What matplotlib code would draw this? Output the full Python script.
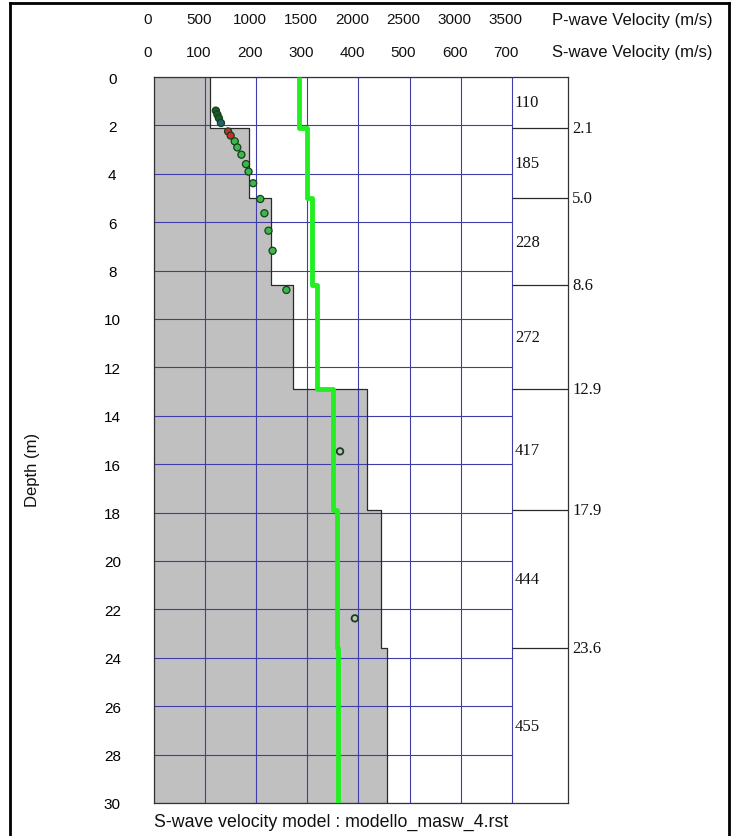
import numpy as np
import matplotlib
matplotlib.use('Agg')
import matplotlib.pyplot as plt
from matplotlib import transforms
from matplotlib.lines import Line2D

# ---------------- data ----------------
layer_tops = [0.0, 2.1, 5.0, 8.6, 12.9, 17.9, 23.6]
max_depth = 30.0
vs_layers = [110, 185, 228, 272, 417, 444, 455]
vp_layers = [1420, 1493, 1541, 1595, 1752, 1786, 1803]
boundary_labels = ['2.1', '5.0', '8.6', '12.9', '17.9', '23.6']

disp_vel = [121, 124, 127, 131, 145, 150, 158, 163, 171, 180, 185, 194,
            208, 216, 224, 232, 259]
disp_depth = [1.39, 1.55, 1.70, 1.90, 2.25, 2.42, 2.66, 2.91, 3.21, 3.60,
              3.91, 4.39, 5.04, 5.63, 6.35, 7.18, 8.80]
extra_vel = [364, 393]
extra_depth = [15.47, 22.37]

vs_ticks = [0, 100, 200, 300, 400, 500, 600, 700]
vp_ticks = [0, 500, 1000, 1500, 2000, 2500, 3000, 3500]
depth_ticks = list(range(0, 31, 2))

# styles
point_colors = ['#1d5a2c', '#1d5a2c', '#1d5a2c', '#1f6272', '#c23030', '#c23030'] + ['#3cb84a'] * 11
grid_color = '#3e3ea6'
fill_color = '#c0c0c0'

W, H = 736, 837
fig = plt.figure(figsize=(W / 100, H / 100), dpi=100)
fig.patch.set_facecolor('white')

L, R, T, B = 154, 568, 78, 804
ax = fig.add_axes([L / W, 1 - B / H, (R - L) / W, (B - T) / H])
xmax = 810
ax.set_xlim(0, xmax)
ax.set_ylim(max_depth, 0)

# step profile
edges = list(layer_tops) + [max_depth]
ys = np.repeat(edges, 2)[1:-1]
xs = np.repeat(vs_layers, 2)
ax.fill_betweenx(ys, 0, xs, color=fill_color, lw=0, zorder=1)

# grid
for v in vs_ticks:
    ax.plot([v, v], [0, max_depth], color=grid_color, lw=0.8, zorder=2)
for d in depth_ticks:
    ax.plot([0, vs_ticks[-1]], [d, d], color=grid_color, lw=0.8, zorder=2)

ax.plot(xs, ys, color='#2a2a2a', lw=0.9, zorder=3)

# dispersion points
ax.scatter(disp_vel, disp_depth, s=26, c=point_colors, edgecolors='#15401a',
           linewidths=0.9, zorder=5)
ax.scatter(extra_vel, extra_depth, s=22, facecolors='none', edgecolors='#15401a',
           linewidths=1.3, zorder=5)

# right column
ax.hlines(layer_tops[1:], vs_ticks[-1], xmax, color='#2a2a2a', lw=0.9, zorder=3)
mids = [(a + b) / 2 for a, b in zip(edges[:-1], edges[1:])]
for m, v in zip(mids, vs_layers):
    ax.text(vs_ticks[-1] + 6, m, str(v), ha='left', va='center',
            family='Liberation Serif', fontsize=12, color='#111111')
off_r = transforms.offset_copy(ax.transData, fig=fig, x=4, y=0, units='dots')
for d, lab in zip(layer_tops[1:], boundary_labels):
    ax.text(xmax, d, lab, ha='left', va='center', transform=off_r,
            family='Liberation Serif', fontsize=12, color='#111111', clip_on=False)

# spines and ticks
for s in ax.spines.values():
    s.set_color('#333333')
    s.set_linewidth(0.9)
ax.set_xticks([])
ax.set_yticks(depth_ticks)
ax.set_yticklabels([str(d) for d in depth_ticks], ha='center',
                   family='Liberation Sans', fontsize=11)
ax.tick_params(axis='y', length=0, pad=30)

# P-wave line on twin axis (drawn above the S-wave axes)
ax2 = ax.twiny()
ax2.set_xlim(0, xmax * vp_ticks[-1] / vs_ticks[-1])
ax2.set_ylim(max_depth, 0)
vp_x = np.repeat(vp_layers, 2)
ax2.plot(vp_x, ys, color='#22ee22', lw=3.5, solid_capstyle='butt', zorder=4)
ax2.axis('off')

# top labels
blend = transforms.blended_transform_factory(ax.transData, fig.transFigure)
blend_off = transforms.offset_copy(blend, fig=fig, x=-6, y=0, units='dots')
for v in vs_ticks:
    ax.text(v, 1 - 53 / H, str(v), transform=blend_off, ha='center', va='center',
            family='Liberation Sans', fontsize=11, color='#111111', clip_on=False)
for v in vp_ticks:
    ax.text(v / 5, 1 - 20 / H, str(v), transform=blend_off, ha='center', va='center',
            family='Liberation Sans', fontsize=11, color='#111111', clip_on=False)
fig.text(552 / W, 1 - 20 / H, 'P-wave Velocity (m/s)', ha='left', va='center',
         family='Liberation Sans', fontsize=12, color='#111111')
fig.text(552 / W, 1 - 53 / H, 'S-wave Velocity (m/s)', ha='left', va='center',
         family='Liberation Sans', fontsize=12, color='#111111')

fig.text(33 / W, 1 - 470 / H, 'Depth (m)', rotation=90, ha='center', va='center',
         family='Liberation Sans', fontsize=12, color='#111111')
fig.text(154 / W, 1 - 822 / H, 'S-wave velocity model : modello_masw_4.rst',
         ha='left', va='center', family='Liberation Sans', fontsize=12.8,
         color='#111111')

# outer frame
fx0, fx1, fy0 = 10 / W, 729 / W, 1 - 4 / H
fig.add_artist(Line2D([fx0, fx0], [0, fy0], transform=fig.transFigure, color='black', lw=2))
fig.add_artist(Line2D([fx1, fx1], [0, fy0], transform=fig.transFigure, color='black', lw=2))
fig.add_artist(Line2D([fx0, fx1], [fy0, fy0], transform=fig.transFigure, color='black', lw=2))

fig.savefig('out.png', dpi=100)
